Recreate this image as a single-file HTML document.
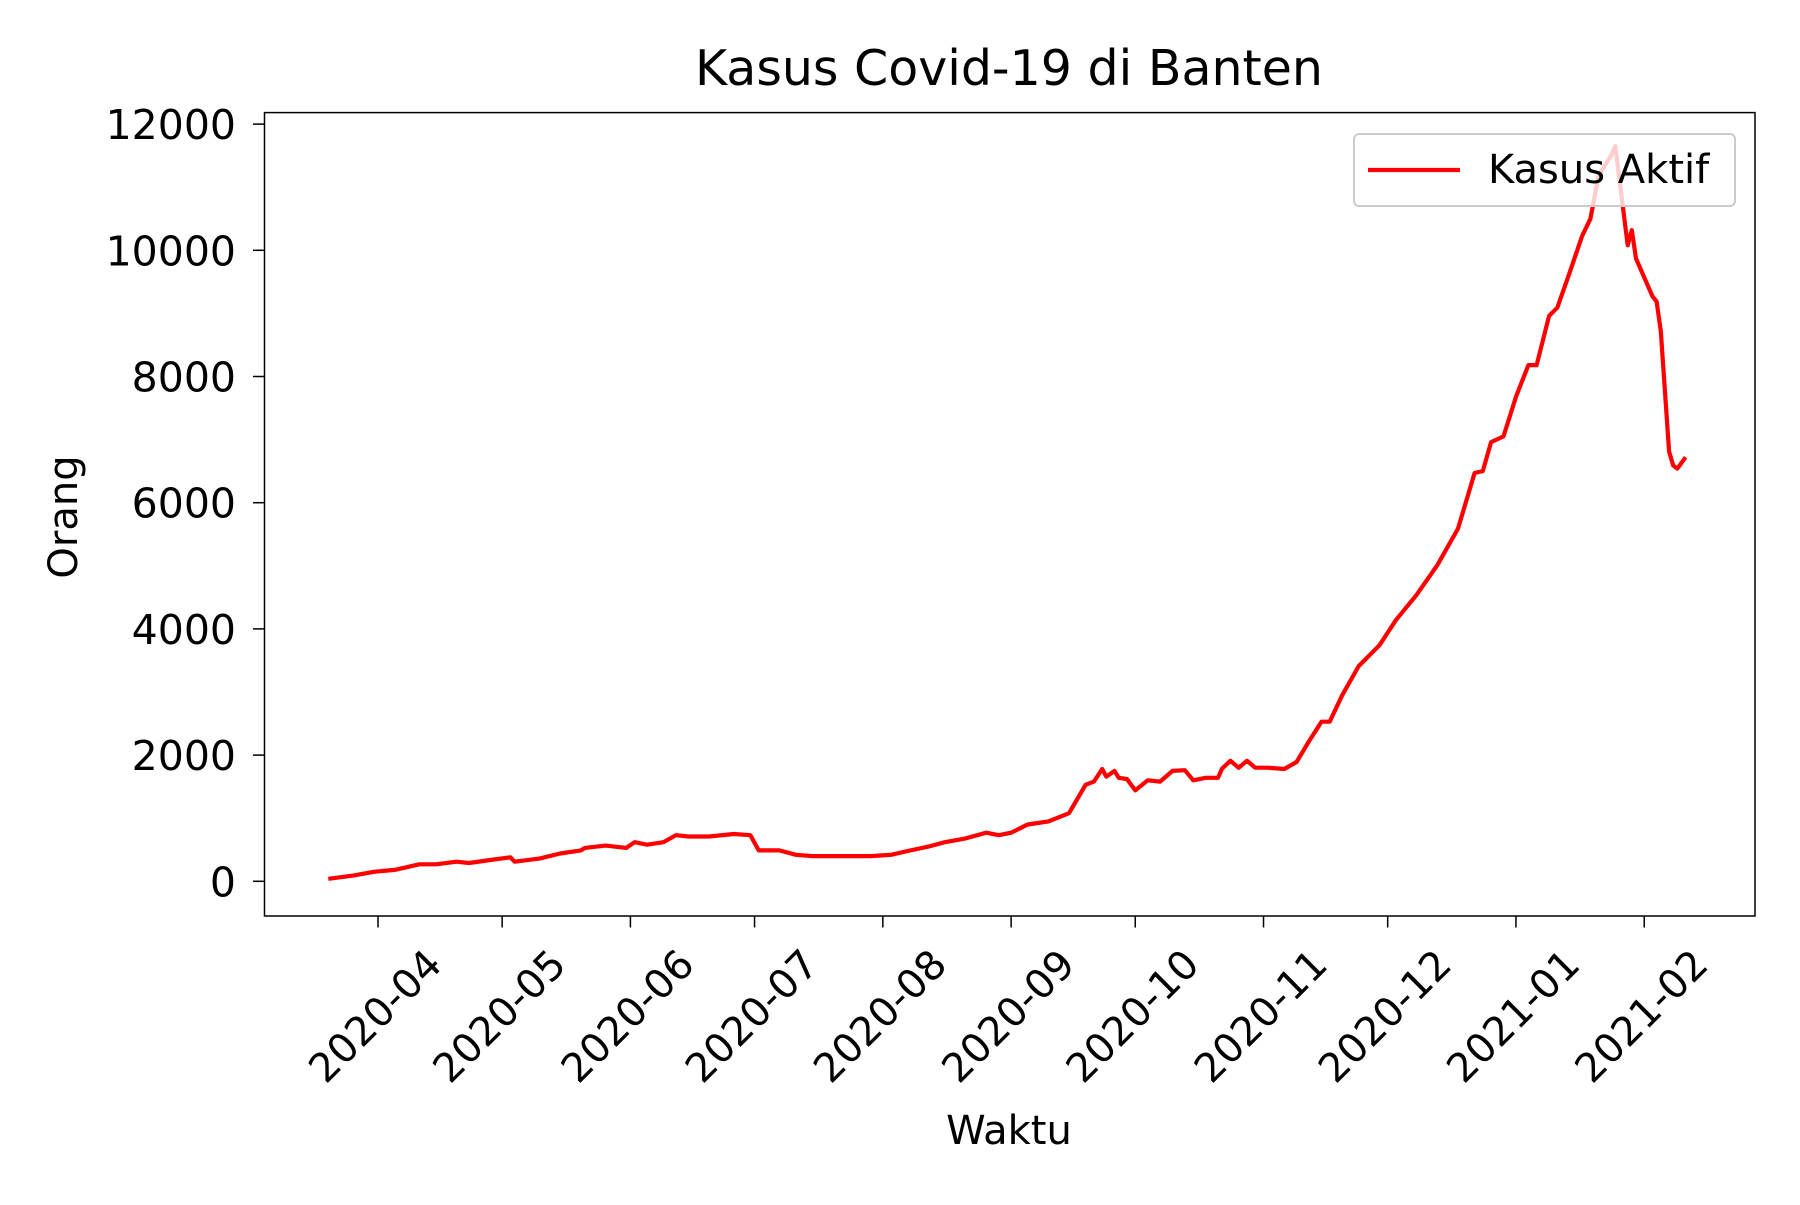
<!DOCTYPE html>
<html><head><meta charset="utf-8"><style>
html,body{margin:0;padding:0;background:#fff;}
svg text{font-family:"DejaVu Sans","Liberation Sans",sans-serif;fill:#000;}
</style></head><body>
<svg width="1800" height="1200" viewBox="0 0 1800 1200" xmlns="http://www.w3.org/2000/svg">
<rect width="1800" height="1200" fill="#fff"/>
<text x="1009" y="85" font-size="49" text-anchor="middle">Kasus Covid-19 di Banten</text>
<g id="yaxis"></g>
<g id="xaxis"></g>
<path id="series" fill="none" stroke="#ff0000" stroke-width="4.2" stroke-linejoin="round"/>
<rect x="264.5" y="112.6" width="1490.5" height="803.4" fill="none" stroke="#000" stroke-width="1.5"/>
<g>
<rect x="1354" y="134" width="381" height="72" rx="5" fill="#fff" fill-opacity="0.8" stroke="#ccc" stroke-width="2"/>
<line x1="1368" y1="170" x2="1460" y2="170" stroke="#ff0000" stroke-width="4.2"/>
<text x="1488" y="183" font-size="40">Kasus Aktif</text>
</g>
<text x="1009" y="1144" font-size="40" text-anchor="middle">Waktu</text>
<text transform="translate(77,517) rotate(-90)" font-size="40" text-anchor="middle">Orang</text>
</svg>
<script>
const dayOffsets=[0,6,11,16,20,22,26,31,34,40,44,45,51,56,61,62,67,72,74,77,81,84,87,92,98,102,104,109,113,117,123,131,136,140,145,149,154,159,162,165,169,174,179,183,185,187,188,190,191,193,195,198,201,204,207,209,212,215,216,218,220,222,224,227,231,234,237,240,242,245,249,254,258,263,268,273,277,279,281,284,287,290,292,295,297,300,303,305,307,310,311,314,315,316,320,321,322,324,325,326,328];
const activeCases=[40,90,150,180,240,270,270,310,290,345,380,310,360,440,490,530,565,530,620,580,620,730,710,710,750,730,490,490,420,400,400,400,420,480,550,620,680,770,730,770,900,950,1080,1530,1580,1780,1660,1750,1640,1620,1440,1600,1580,1750,1760,1600,1640,1640,1790,1910,1800,1910,1800,1800,1780,1890,2220,2530,2530,2950,3410,3740,4140,4540,5010,5590,6470,6500,6960,7050,7680,8180,8180,8960,9090,9650,10230,10500,11190,11500,11650,10080,10320,9870,9270,9190,8720,6810,6590,6540,6720];
const yTicks=[0,2000,4000,6000,8000,10000,12000];
const xTickLabels=["2020-04","2020-05","2020-06","2020-07","2020-08","2020-09","2020-10","2020-11","2020-12","2021-01","2021-02"];
const xTickDays=[12,42,73,103,134,165,195,226,256,287,318];
const NS="http://www.w3.org/2000/svg";
function xScale(d){return 378+(d-12)*4.138;}
function yScale(v){return 881.3-v*(881.3-124.1)/12000;}
const ya=document.getElementById('yaxis'),xa=document.getElementById('xaxis');
yTicks.forEach(v=>{
 const y=yScale(v);
 const l=document.createElementNS(NS,'line');
 
 
 l.setAttribute('x1',264.5);l.setAttribute('x2',253);l.setAttribute('y1',y);l.setAttribute('y2',y);
 l.setAttribute('stroke','#000');l.setAttribute('stroke-width','1.5');ya.appendChild(l);
 const t=document.createElementNS(NS,'text');
 
 
 t.setAttribute('x',236);t.setAttribute('y',y+15);t.setAttribute('font-size','41');t.setAttribute('text-anchor','end');
 t.textContent=String(v);ya.appendChild(t);
});
xTickDays.forEach((d,i)=>{
 const x=xScale(d);
 const l=document.createElementNS(NS,'line');
 
 
 l.setAttribute('x1',x);l.setAttribute('x2',x);l.setAttribute('y1',916);l.setAttribute('y2',927.5);
 l.setAttribute('stroke','#000');l.setAttribute('stroke-width','1.5');xa.appendChild(l);
 const t=document.createElementNS(NS,'text');
 
 
 t.setAttribute('transform','translate('+(x-3)+',1016) rotate(-45)');
 t.setAttribute('font-size','40');t.setAttribute('text-anchor','middle');t.setAttribute('dy','14');
 t.textContent=xTickLabels[i];xa.appendChild(t);
});
let dstr='';
dayOffsets.forEach((d,i)=>{dstr+=(i?'L':'M')+xScale(d).toFixed(1)+','+yScale(activeCases[i]).toFixed(1);});
document.getElementById('series').setAttribute('d',dstr);
</script>
</body></html>
